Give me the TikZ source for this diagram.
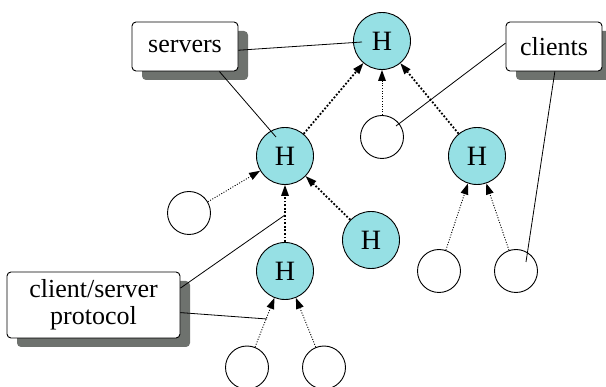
\documentclass[tikz,border=0pt]{standalone}
\usepackage{fontspec}
\setmainfont{Liberation Serif}
\usetikzlibrary{arrows.meta,shadows}
\definecolor{hcyan}{RGB}{150,224,228}
\definecolor{shadowgray}{RGB}{110,114,110}
\begin{document}
\begin{tikzpicture}[x=1pt,y=-1pt,
  hnode/.style={circle,draw,line width=0.9pt,fill=hcyan,minimum size=57pt,inner sep=0pt,font=\fontsize{28}{28}\selectfont},
  cnode/.style={circle,draw,line width=0.9pt,fill=white,minimum size=43pt,inner sep=0pt},
  labelbox/.style={draw,line width=0.9pt,fill=white,rounded corners=4pt,inner sep=0pt,align=center,
    font=\fontsize{26}{27}\selectfont,
    drop shadow={shadow xshift=10pt,shadow yshift=-9pt,fill=shadowgray,opacity=1}},
  thinarr/.style={line width=0.9pt,dash pattern=on 1pt off 1.6pt,-{Triangle[length=11pt,width=8pt,line width=0pt]},shorten >=0pt},
  thickarr/.style={line width=1.8pt,dash pattern=on 1.8pt off 1.8pt,-{Triangle[length=11pt,width=8pt,line width=0pt]}},
  conn/.style={line width=0.8pt}]
\useasboundingbox (0,0) rectangle (606,387);
% boxes
\node[labelbox,minimum width=106pt,minimum height=49pt] (servers) at (185,46.5) {servers};
\node[labelbox,minimum width=96pt,minimum height=49pt] (clients) at (554,46.5) {clients};
\node[labelbox,minimum width=173pt,minimum height=66pt] (proto) at (93.5,305) {client/server\\protocol};
% hosts
\node[hnode] (htop) at (382,41) {H};
\node[hnode] (hmid) at (285,156) {H};
\node[hnode] (hright) at (477,156) {H};
\node[hnode] (hmr) at (371,240) {H};
\node[hnode] (hlow) at (285,271) {H};
% clients
\node[cnode] (ct) at (382,137) {};
\node[cnode] (cl) at (189,213) {};
\node[cnode] (cr1) at (439,271) {};
\node[cnode] (cr2) at (516,271) {};
\node[cnode] (cb1) at (247,367.5) {};
\node[cnode] (cb2) at (324,367.5) {};
% arrows
\draw[thickarr] (hmid) -- (htop);
\draw[thickarr] (hright) -- (htop);
\draw[thickarr] (hmr) -- (hmid);
\draw[thickarr] (hlow) -- (hmid);
\draw[thinarr] (ct) -- (htop);
\draw[thinarr] (cl) -- (hmid);
\draw[thinarr] (cr1) -- (hright);
\draw[thinarr] (cr2) -- (hright);
\draw[thinarr] (cb1) -- (hlow);
\draw[thinarr] (cb2) -- (hlow);
% connector end points
\coordinate (e1) at (362,42);
\coordinate (e2) at (276,137);
\coordinate (e3) at (396,126);
\coordinate (e4) at (526,262);
\coordinate (e5) at (285,215);
\coordinate (e6) at (267,319);
% connectors
\draw[conn] (servers.-4) -- (e1);
\draw[conn] (servers.-36.6) -- (e2);
\draw[conn] (clients.176) -- (e3);
\draw[conn] (clients.-88) -- (e4);
\draw[conn] (proto.11) -- (e5);
\draw[conn] (proto.-5) -- (e6);
\end{tikzpicture}
\end{document}
